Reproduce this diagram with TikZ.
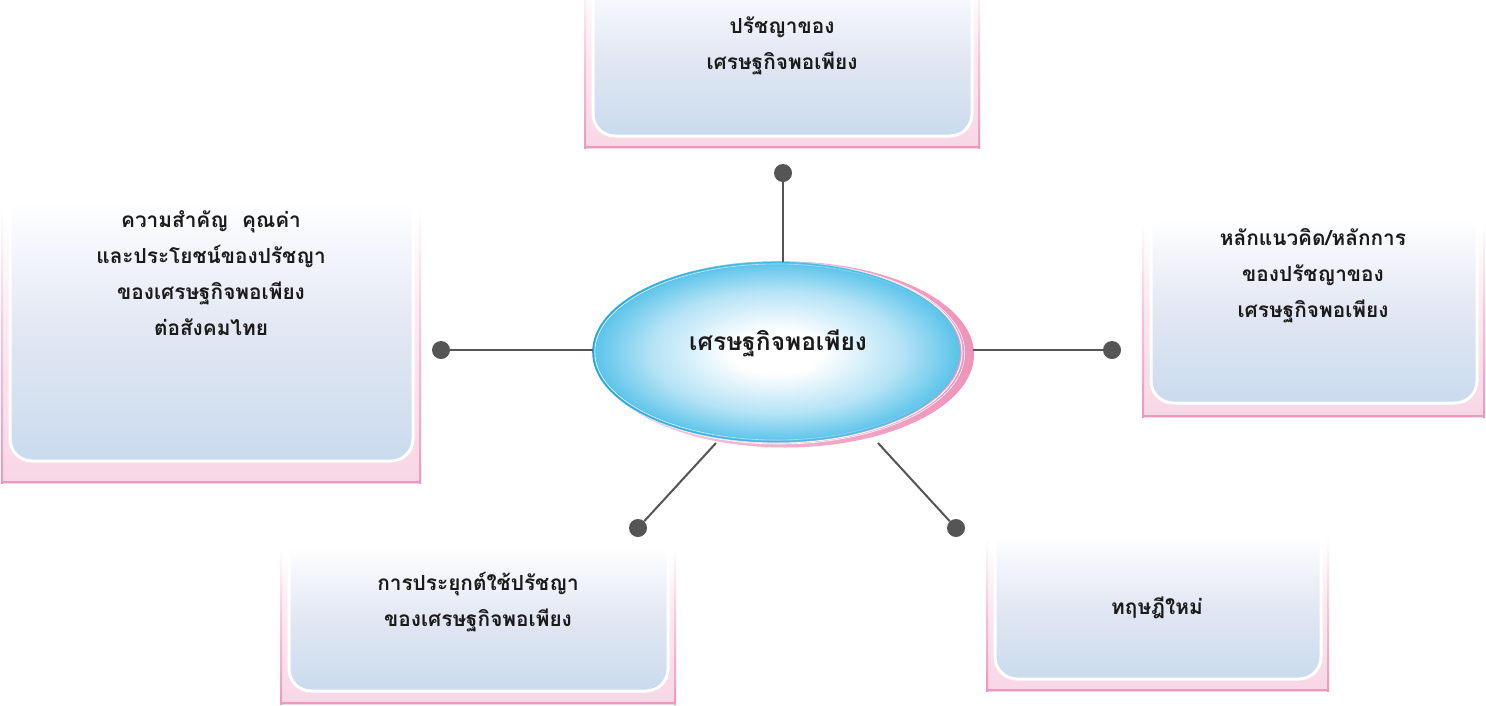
\documentclass[tikz,border=0pt]{standalone}
\usepackage{fontspec}
\newfontfamily\thaifont[Script=Thai]{Loma}
\usetikzlibrary{shapes.geometric,fadings,calc}
\definecolor{pinkfill}{HTML}{F8D6E5}
\definecolor{pinkhalf}{HTML}{FCEAF2}
\definecolor{pinkline}{HTML}{EE98BD}
\definecolor{pinklinehalf}{HTML}{F6C8DC}
\definecolor{innerblue}{HTML}{C9DBEE}
\definecolor{innermid}{HTML}{E2E7F3}
\definecolor{innerlight}{HTML}{F5F7FC}
\definecolor{linegray}{HTML}{555555}
\definecolor{textdark}{HTML}{1A1A1A}
\definecolor{ellblue}{HTML}{5AC3EA}
\definecolor{ellmid}{HTML}{B5E3F6}
\definecolor{elledge}{HTML}{1AA8E0}
\definecolor{ellpink}{HTML}{EE94BB}
\definecolor{ellpinklight}{HTML}{F7CADD}
\pgfdeclareverticalshading{pinksh}{100bp}{color(0bp)=(pinkfill); color(25bp)=(pinkfill); color(52bp)=(pinkhalf); color(68bp)=(white); color(100bp)=(white)}
\pgfdeclareverticalshading{pinklinesh}{100bp}{color(0bp)=(pinkline); color(25bp)=(pinkline); color(50bp)=(pinklinehalf); color(70bp)=(white); color(100bp)=(white)}
\pgfdeclareverticalshading{innersh}{100bp}{color(0bp)=(innerblue); color(25bp)=(innerblue); color(48bp)=(innermid); color(64bp)=(innerlight); color(71bp)=(white); color(100bp)=(white)}
\pgfdeclareradialshading{ellsh}{\pgfpoint{0bp}{0bp}}{color(0bp)=(white); color(6bp)=(white); color(17bp)=(ellmid); color(25bp)=(ellblue); color(50bp)=(ellblue)}
\tikzset{
  conn/.style={draw=linegray, line width=2},
  dotnode/.style={circle, fill=linegray, inner sep=0pt, minimum size=18},
  lbl/.style={font=\thaifont\bfseries\fontsize{20.8}{36}\selectfont, align=center, text=textdark},
  biglbl/.style={font=\thaifont\bfseries\fontsize{24.5}{30}\selectfont, align=center, text=textdark},
  innerbox/.style={draw=white, line width=3, rounded corners=22, shading=innersh},
  rimline/.style={draw=white, line width=0.7},
}
% #1 left, #2 top, #3 right, #4 bottom, #5 inner bottom inset
\newcommand\pinkpanel[5]{%
  \shade[shading=pinksh] (#1,#2) rectangle (#3,#4);
  \shade[shading=pinklinesh] (#1,#2) rectangle (#1+2,#4);
  \shade[shading=pinklinesh] (#3-2,#2) rectangle (#3,#4);
  \fill[pinkline] (#1,#4-2) rectangle (#3,#4);
  \shade[innerbox] (#1+9,#2+4) rectangle (#3-8,#4-#5);
}
\begin{document}
\begin{tikzpicture}[x=1pt,y=-1pt]
\useasboundingbox (0,0) rectangle (1486,705);
\fill[white] (0,0) rectangle (1486,705);

% panels
\pinkpanel{584}{-40}{980}{148}{12}
\pinkpanel{1}{175}{421}{483}{22}
\pinkpanel{1142}{200}{1485}{417}{14}
\pinkpanel{280}{530}{676}{704}{13}
\pinkpanel{986}{520}{1329}{691}{12}

% labels
\node[lbl] (tTop) at (782,46) {ปรัชญาของ\\เศรษฐกิจพอเพียง};
\node[lbl] (tLeft) at (211,273) {ความสำคัญ\ \ คุณค่า\\และประโยชน์ของปรัชญา\\ของเศรษฐกิจพอเพียง\\ต่อสังคมไทย};
\node[lbl] (tRight) at (1313,276) {หลักแนวคิด/หลักการ\\ของปรัชญาของ\\เศรษฐกิจพอเพียง};
\node[lbl] (tBL) at (478,602) {การประยุกต์ใช้ปรัชญา\\ของเศรษฐกิจพอเพียง};
\node[lbl] (tBR) at (1157,608) {ทฤษฎีใหม่};

% central ellipse: pink rim behind
\shade[left color=ellpinklight, right color=ellpink] (785,354.5) ellipse [x radius=189, y radius=93];
\draw[rimline, line width=0.6] (779.5,353) ellipse [x radius=185.3, y radius=91];
\draw[rimline, line width=1] (777.8,352.5) ellipse [x radius=184.3, y radius=90.4];
\node[ellipse, minimum width=367, minimum height=180, shading=ellsh, inner sep=0pt] (c) at (776.5,352) {};
\draw[elledge, line width=1.5, path fading=east] (c.center) ellipse [x radius=183.5, y radius=90];
\draw[white, line width=0.6, path fading=east] (c.center) ellipse [x radius=181.5, y radius=88];
\draw[elledge!70, line width=0.8, path fading=east] (c.center) ellipse [x radius=180.5, y radius=87];
\node[biglbl] (tC) at (778,343) {เศรษฐกิจพอเพียง};

% dots
\node[dotnode] (dT) at (783,173) {};
\node[dotnode] (dL) at (441,350) {};
\node[dotnode] (dR) at (1112,350) {};
\node[dotnode] (dBL) at (638,528) {};
\node[dotnode] (dBR) at (956,528) {};
\coordinate (eBL) at (716,443);
\coordinate (eBR) at (878,443);

% connectors
\draw[conn] (dT) -- (dT |- c.north);
\draw[conn] (dL) -- (dL -| c.west);
\draw[conn] (dR) -- ($(dR -| c.east)+(13,0)$);
\draw[conn] (dBL) -- (eBL);
\draw[conn] (dBR) -- (eBR);
\end{tikzpicture}
\end{document}
